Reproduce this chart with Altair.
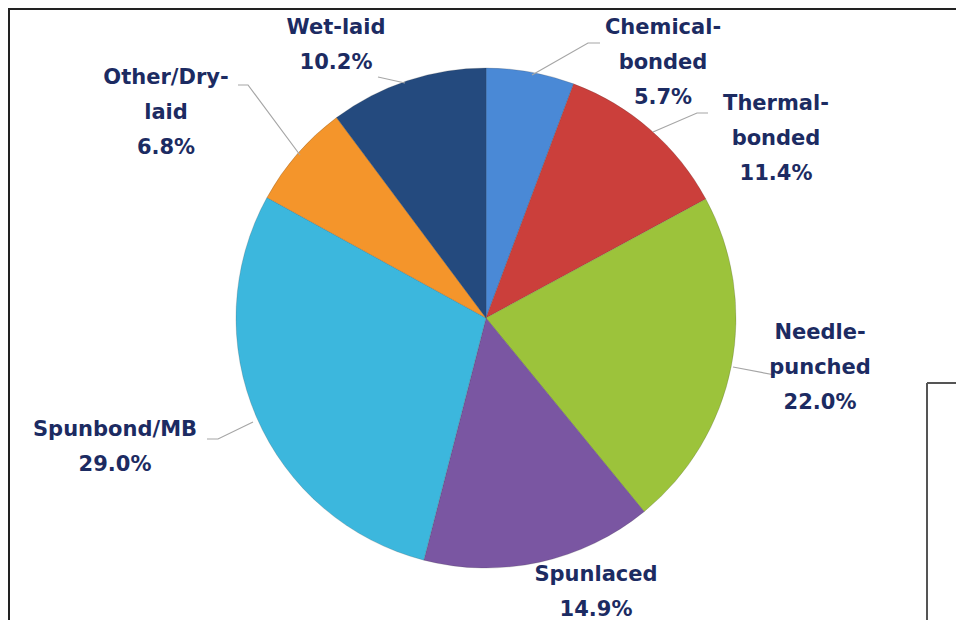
import altair as alt
import pandas as pd

# ---- data ----
categories = ["Chemical-bonded", "Thermal-bonded", "Needle-punched", "Spunlaced",
              "Spunbond/MB", "Other/Dry-laid", "Wet-laid"]
values = [5.7, 11.4, 22.0, 14.9, 29.0, 6.8, 10.2]
label_names = ["Chemical-\nbonded", "Thermal-\nbonded", "Needle-\npunched", "Spunlaced",
               "Spunbond/MB", "Other/Dry-\nlaid", "Wet-laid"]
colors = ["#4a89d6", "#cb3f3b", "#9cc33b", "#7a56a2", "#3cb7dd", "#f4952b", "#244a7e"]

# ---- layout (pixels within chart) ----
W, H = 948, 612
CX, CY, R = 478, 310, 250
# first-line centres of the label blocks, offset from pie centre
label_dx = [177, 290, 334, 110, -371, -320, -150]
label_dy = [-290, -214, 15, 257, 112, -240, -290]
# leader lines (offsets from pie centre), one polyline per category
leaders = {
    "Chemical-bonded": [(46, -243), (102, -275), (114, -275)],
    "Thermal-bonded": [(167, -186), (211, -205), (222, -205)],
    "Needle-punched": [(247, 49), (289, 57)],
    "Spunbond/MB": [(-233, 104), (-268, 121), (-279, 121)],
    "Other/Dry-laid": [(-186, -163), (-238, -233), (-248, -233)],
    "Wet-laid": [(-81, -235), (-108, -241)],
}

df = pd.DataFrame({
    "category": categories,
    "value": values,
    "order": list(range(len(categories))),
    "text": [f"{n}\n{v:.1f}%" for n, v in zip(label_names, values)],
    "lx": [CX + d for d in label_dx],
    "ly": [CY + d for d in label_dy],
})

rows = []
for cat, pts in leaders.items():
    for i, (dx, dy) in enumerate(pts):
        rows.append({"category": cat, "i": i, "px": CX + dx, "py": CY + dy})
lead_df = pd.DataFrame(rows)

pie = alt.Chart(df).mark_arc(radius=R, stroke="#3a3a3a", strokeWidth=0.4, strokeOpacity=0.5).encode(
    theta=alt.Theta("value:Q", stack=True),
    order=alt.Order("order:Q"),
    color=alt.Color("category:N", scale=alt.Scale(domain=categories, range=colors), legend=None),
    x=alt.value(CX),
    y=alt.value(CY),
)

lines = alt.Chart(lead_df).mark_line(color="#a6a6a6", strokeWidth=1.2).encode(
    x=alt.X("px:Q", scale=None),
    y=alt.Y("py:Q", scale=None),
    detail="category:N",
    order="i:Q",
)

labels = alt.Chart(df).mark_text(
    font="DejaVu Sans", fontWeight="bold", fontSize=21, color="#1c2b62",
    align="center", baseline="middle", lineBreak="\n", lineHeight=35,
).encode(
    x=alt.X("lx:Q", scale=None),
    y=alt.Y("ly:Q", scale=None),
    text="text:N",
)

one = df.head(1)
frame_left = alt.Chart(one).mark_rule(color="#222222", strokeWidth=2).encode(
    x=alt.value(1), y=alt.value(0), y2=alt.value(H)
)
frame_top = alt.Chart(one).mark_rule(color="#222222", strokeWidth=2).encode(
    x=alt.value(0), x2=alt.value(W), y=alt.value(1)
)
box_v = alt.Chart(one).mark_rule(color="#555555", strokeWidth=2).encode(
    x=alt.value(919), y=alt.value(375), y2=alt.value(H)
)
box_h = alt.Chart(one).mark_rule(color="#555555", strokeWidth=2).encode(
    x=alt.value(919), x2=alt.value(W), y=alt.value(375)
)

chart = alt.layer(pie, lines, labels, frame_left, frame_top, box_v, box_h).properties(
    width=W, height=H, autosize=alt.AutoSizeParams(type="none"), padding=0,
    background="white",
).configure_view(strokeWidth=0)

chart.save("out.html", embed_options={"renderer": "svg", "actions": False})
